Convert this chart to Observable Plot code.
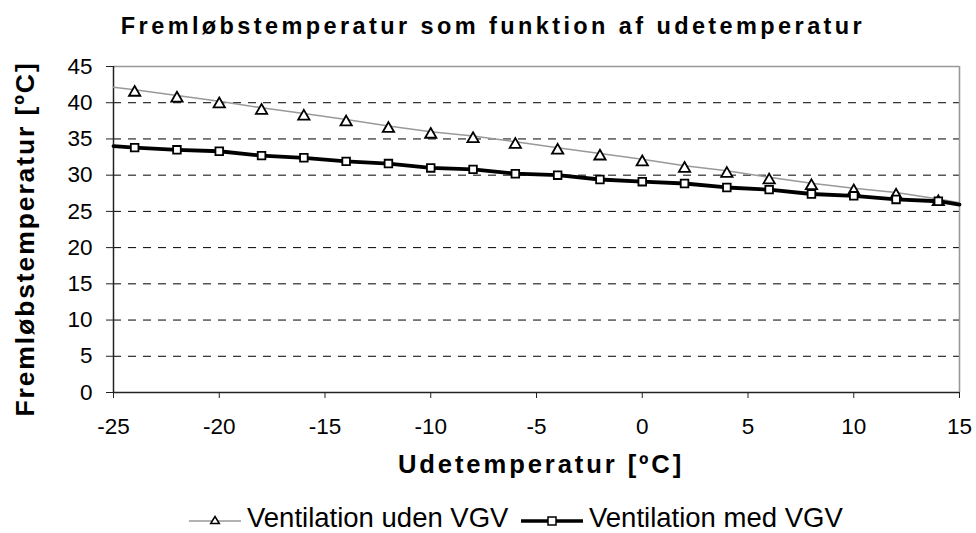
<!DOCTYPE html>
<html>
<head>
<meta charset="utf-8">
<script src="https://cdn.jsdelivr.net/npm/d3@7"></script>
<script src="https://cdn.jsdelivr.net/npm/@observablehq/plot@0.6"></script>
<style>
html, body { margin: 0; padding: 0; background: #fff; }
#wrap { position: relative; width: 976px; height: 533px; overflow: hidden;
        font-family: "Liberation Sans", Arial, sans-serif; color: #000; }
#wrap > svg { position: absolute; left: 0; top: 0; }
.t { position: absolute; white-space: nowrap; line-height: 1; }
#title { font-weight: bold; font-size: 23.5px; letter-spacing: 3.4px; left: 493px; top: 15px; transform: translateX(-50%); }
#xlabel { font-weight: bold; font-size: 25.6px; letter-spacing: 2.9px; left: 541px; top: 451.6px; transform: translateX(-50%); }
#ylabel { font-weight: bold; font-size: 26.5px; letter-spacing: 1.9px; left: 25px; top: 238.5px; transform: translate(-50%, -50%) rotate(-90deg); }
.leg { position: absolute; font-size: 27.5px; line-height: 1; white-space: nowrap; top: 504px; }
.sw { position: absolute; }
</style>
</head>
<body>
<div id="wrap"></div>
<script>
// ---- texts ----
const titleText = "Fremløbstemperatur som funktion af udetemperatur";
const xLabelText = "Udetemperatur [ºC]";
const yLabelText = "Fremløbstemperatur [ºC]";
const seriesNames = ["Ventilation uden VGV", "Ventilation med VGV"];

// ---- axes ----
const xTicks = [-25, -20, -15, -10, -5, 0, 5, 10, 15];
const yTicks = [0, 5, 10, 15, 20, 25, 30, 35, 40, 45];
const yGrid = [5, 10, 15, 20, 25, 30, 35, 40];

// ---- data ----
const markerTemps = [-24, -22, -20, -18, -16, -14, -12, -10, -8, -6, -4, -2, 0, 2, 4, 6, 8, 10, 12, 14];
const udenVGV = [41.8, 41.0, 40.2, 39.3, 38.5, 37.7, 36.8, 36.0, 35.4, 34.6, 33.8, 33.0, 32.2, 31.3, 30.6, 29.7, 28.9, 28.2, 27.6, 26.7];
const medVGV  = [33.8, 33.5, 33.3, 32.7, 32.4, 31.9, 31.6, 31.0, 30.8, 30.2, 30.0, 29.4, 29.1, 28.85, 28.3, 28.0, 27.4, 27.15, 26.65, 26.4];
// line end points (lines run across the full x range)
const lineEndTemps = [-25, 15];
const udenEnds = [42.15, 26.2];
const medEnds = [34.0, 25.95];

// ---- build tables ----
const udenPts = markerTemps.map((t, i) => ({t, v: udenVGV[i]}));
const medPts = markerTemps.map((t, i) => ({t, v: medVGV[i]}));
const udenLine = [{t: lineEndTemps[0], v: udenEnds[0]}, ...udenPts, {t: lineEndTemps[1], v: udenEnds[1]}];
const medLine = [{t: lineEndTemps[0], v: medEnds[0]}, ...medPts, {t: lineEndTemps[1], v: medEnds[1]}];

const chart = Plot.plot({
  width: 976,
  height: 533,
  marginLeft: 113,
  marginRight: 17,
  marginTop: 66,
  marginBottom: 141,
  style: {fontFamily: '"Liberation Sans", Arial, sans-serif', fontSize: "22.5px", color: "#000", background: "transparent", overflow: "visible"},
  x: {domain: [-25, 15]},
  y: {domain: [0, 45]},
  marks: [
    Plot.gridY(yGrid, {stroke: "#000", strokeOpacity: 1, strokeWidth: 1, strokeDasharray: "8,7"}),
    Plot.ruleY([45], {stroke: "#999", strokeWidth: 1.6}),
    Plot.ruleX([15], {stroke: "#999", strokeWidth: 1.6}),
    Plot.axisY(yTicks, {tickSize: 7, tickPadding: 14, label: null, fontSize: 22.5, stroke: "#222", tickFormat: d => String(d)}),
    Plot.axisX(xTicks, {tickSize: 6, tickPadding: 20, label: null, fontSize: 22.5, stroke: "#222", tickFormat: d => String(d)}),
    Plot.ruleX([-25], {stroke: "#222", strokeWidth: 1.5}),
    Plot.ruleY([0], {stroke: "#222", strokeWidth: 1.5}),
    Plot.line(udenLine, {x: "t", y: "v", stroke: "#999", strokeWidth: 1.5}),
    Plot.dot(udenPts, {x: "t", y: "v", symbol: "triangle", r: 4.2, fill: "#fff", stroke: "#000", strokeWidth: 1.8, dy: 2.8}),
    Plot.line(medLine, {x: "t", y: "v", stroke: "#000", strokeWidth: 3.8}),
    Plot.dot(medPts, {x: "t", y: "v", symbol: "square", r: 4.3, fill: "#fff", stroke: "#000", strokeWidth: 1.8})
  ]
});

const wrap = document.getElementById("wrap");
wrap.appendChild(chart);

function addText(id, txt) {
  const d = document.createElement("div");
  d.className = "t"; d.id = id; d.textContent = txt;
  wrap.appendChild(d);
}
addText("title", titleText);
addText("xlabel", xLabelText);
addText("ylabel", yLabelText);

// ---- legend ----
const NS = "http://www.w3.org/2000/svg";
function swatch(left, w, lineColor, lineWidth, symbol) {
  const s = document.createElementNS(NS, "svg");
  s.setAttribute("class", "sw");
  s.setAttribute("width", w); s.setAttribute("height", 20);
  s.style.left = left + "px"; s.style.top = "511px";
  const l = document.createElementNS(NS, "line");
  l.setAttribute("x1", 0); l.setAttribute("x2", w); l.setAttribute("y1", 10); l.setAttribute("y2", 10);
  l.setAttribute("stroke", lineColor); l.setAttribute("stroke-width", lineWidth);
  s.appendChild(l);
  const c = w / 2;
  let m;
  if (symbol === "triangle") {
    m = document.createElementNS(NS, "path");
    m.setAttribute("d", `M${c},5.5L${c + 4.3},12.5L${c - 4.3},12.5Z`);
  } else {
    m = document.createElementNS(NS, "rect");
    m.setAttribute("x", c - 4); m.setAttribute("y", 6); m.setAttribute("width", 8); m.setAttribute("height", 8);
  }
  m.setAttribute("fill", "#fff"); m.setAttribute("stroke", "#000"); m.setAttribute("stroke-width", 1.5);
  s.appendChild(m);
  wrap.appendChild(s);
}
function legText(left, txt) {
  const d = document.createElement("div");
  d.className = "leg"; d.textContent = txt; d.style.left = left + "px";
  wrap.appendChild(d);
}
swatch(189, 52, "#999", 1.5, "triangle");
legText(247, seriesNames[0]);
swatch(521, 62, "#000", 3.5, "square");
legText(589, seriesNames[1]);
</script>
</body>
</html>
